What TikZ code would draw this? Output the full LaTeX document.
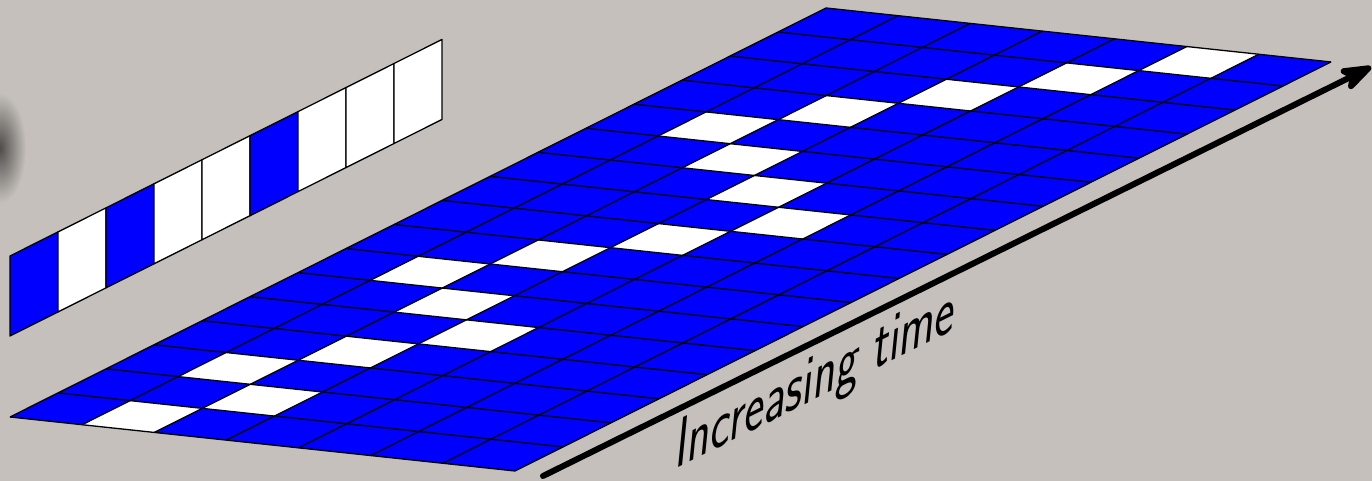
\documentclass[tikz,border=0pt]{standalone}
\usepackage{fontspec}
\usetikzlibrary{arrows.meta}
\definecolor{bg}{RGB}{197,192,187}
\definecolor{cellblue}{RGB}{0,0,255}
\begin{document}
\begin{tikzpicture}[x=1pt,y=1pt,
  gridline/.style={line width=1.3pt, line join=round, draw=black},
  bluecell/.style={fill=cellblue},
  whitecell/.style={fill=white},
  timearrow/.style={line width=6pt, line cap=round, -{Stealth[length=40pt,width=28pt,inset=10pt,round]}},
  timelabel/.style={font=\sffamily\fontsize{72}{72}\selectfont, inner sep=0pt, anchor=base west}]
\fill[bg] (0,0) rectangle (1372,481);
\useasboundingbox (0,0) rectangle (1372,481);
\shade[inner color=black!60!bg, outer color=bg] (0,333) ellipse (26 and 55);
% big grid: 7 columns x 17 rows
\begin{scope}[cm={72.14,-7.714,48,24.06,(10,64)}]
  \fill[bluecell] (0,0) -- (7,0) -- (7,17) -- (0,17) -- cycle;
  \foreach \i/\j in {1/0,2/1,1/2,2/3,3/4,2/5,1/6,2/7,3/8,4/9,3/10,2/11,1/12,2/13,3/14,4/15,5/16}
    \fill[whitecell] (\i,\j) -- ({\i+1},\j) -- ({\i+1},{\j+1}) -- (\i,{\j+1}) -- cycle;
  \foreach \i in {0,...,7} \draw[gridline] (\i,0) -- (\i,17);
  \foreach \j in {0,...,17} \draw[gridline] (0,\j) -- (7,\j);
\end{scope}
% strip of 9 cells
\begin{scope}[cm={48,24.06,0,80,(10,145)}]
  \foreach \k/\c in {0/bluecell,1/whitecell,2/bluecell,3/whitecell,4/whitecell,5/bluecell,6/whitecell,7/whitecell,8/whitecell}
    \filldraw[\c, gridline] (\k,0) -- ({\k+1},0) -- ({\k+1},1) -- (\k,1) -- cycle;
\end{scope}
% arrow
\coordinate (arrS) at (543,5);
\coordinate (arrE) at (1371,414);
\draw[timearrow] (arrS) -- (arrE);
\node[timelabel, cm={0.655,0.3275,0.1,1,(0,0)}] (lbl) at (674,11) {Increasing time};
\end{tikzpicture}
\end{document}
